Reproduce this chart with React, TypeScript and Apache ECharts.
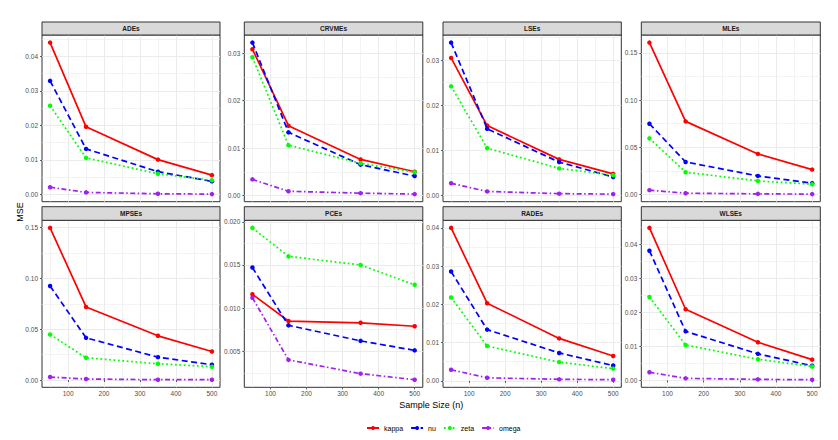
import React, { useEffect, useRef } from "react";
import * as echarts from "echarts";

// Facet panels (left-to-right, top-to-bottom)
const panels = ["ADEs", "CRVMEs", "LSEs", "MLEs", "MPSEs", "PCEs", "RADEs", "WLSEs"];
const sampleSizes = [50, 150, 350, 500];
const xBreaks = [100, 200, 300, 400, 500];
const seriesNames = ["kappa", "nu", "zeta", "omega"];

// MSE values: one row per panel (order of `panels`), one column per sample size
const kappa = [
  [0.0440, 0.0196, 0.0101, 0.0056],
  [0.0308, 0.0147, 0.0076, 0.0050],
  [0.0305, 0.0155, 0.0080, 0.0048],
  [0.1610, 0.0775, 0.0430, 0.0264],
  [0.1497, 0.0719, 0.0435, 0.0281],
  [0.0116, 0.0085, 0.0083, 0.0079],
  [0.0400, 0.0203, 0.0111, 0.0065],
  [0.0448, 0.0209, 0.0112, 0.0061],
];
const nu = [
  [0.0329, 0.0132, 0.0066, 0.0038],
  [0.0322, 0.0133, 0.0065, 0.0041],
  [0.0339, 0.0148, 0.0074, 0.0041],
  [0.0750, 0.0345, 0.0197, 0.0120],
  [0.0925, 0.0415, 0.0225, 0.0150],
  [0.0147, 0.0080, 0.0062, 0.0051],
  [0.0286, 0.0134, 0.0073, 0.0040],
  [0.0381, 0.0144, 0.0078, 0.0043],
];
const zeta = [
  [0.0257, 0.0106, 0.0060, 0.0041],
  [0.0291, 0.0106, 0.0068, 0.0049],
  [0.0242, 0.0105, 0.0060, 0.0045],
  [0.0595, 0.0236, 0.0144, 0.0109],
  [0.0448, 0.0219, 0.0160, 0.0131],
  [0.0193, 0.0160, 0.0150, 0.0127],
  [0.0218, 0.0091, 0.0049, 0.0032],
  [0.0245, 0.0104, 0.0062, 0.0041],
];
const omega = [
  [0.0021, 0.0006, 0.0002, 0.0001],
  [0.0034, 0.0009, 0.0005, 0.0003],
  [0.0027, 0.0009, 0.0004, 0.0003],
  [0.0046, 0.0014, 0.0007, 0.0004],
  [0.0029, 0.0010, 0.0003, 0.0003],
  [0.0112, 0.0040, 0.0024, 0.0017],
  [0.0029, 0.0008, 0.0004, 0.0003],
  [0.0024, 0.0006, 0.0003, 0.0002],
];

// y-axis tick labels per panel
const yBreaks = [
  [0, 0.01, 0.02, 0.03, 0.04],
  [0, 0.01, 0.02, 0.03],
  [0, 0.01, 0.02, 0.03],
  [0, 0.05, 0.1, 0.15],
  [0, 0.05, 0.1, 0.15],
  [0.005, 0.01, 0.015, 0.02],
  [0, 0.01, 0.02, 0.03, 0.04],
  [0, 0.01, 0.02, 0.03, 0.04],
];
const yDecimals = [2, 2, 2, 2, 2, 3, 2, 2];

const seriesData = [kappa, nu, zeta, omega];
const seriesColors = ["#FF0000", "#0000FF", "#00FF00", "#A020F0"];
const seriesDash: any[] = ["solid", [6, 3.5], [1.8, 2.6], [5, 2.5, 1.5, 2.5]];

// layout
const COLS = [
  [42, 220],
  [244.3, 422.8],
  [443, 621.3],
  [641.3, 820.3],
];
const ROWS = [
  { stripTop: 22, top: 35, bottom: 201.7 },
  { stripTop: 206.7, top: 220.3, bottom: 387.3 },
];
const FONT = "Liberation Sans, Arial, sans-serif";

function buildOption() {
  const grids: any[] = [];
  const xAxes: any[] = [];
  const yAxes: any[] = [];
  const series: any[] = [];
  const graphics: any[] = [];

  const xLo = Math.min(...sampleSizes);
  const xHi = Math.max(...sampleSizes);
  const xPad = (xHi - xLo) * 0.05;

  panels.forEach((name, p) => {
    const col = COLS[p % 4];
    const row = ROWS[Math.floor(p / 4)];
    const isBottom = p >= 4;
    grids.push({
      left: col[0],
      top: row.top,
      width: col[1] - col[0],
      height: row.bottom - row.top,
      show: true,
      backgroundColor: "#FFFFFF",
      borderColor: "#333333",
      borderWidth: 1,
      containLabel: false,
      outerBoundsMode: "none",
    });

    const all = seriesData.flatMap((s) => s[p]);
    const yLo = Math.min(...all);
    const yHi = Math.max(...all);
    const yPad = (yHi - yLo) * 0.05;
    const yInt = yBreaks[p][1] - yBreaks[p][0];
    const yMin = yLo - yPad;
    const yMax = yHi + yPad;

    xAxes.push({
      type: "value",
      gridIndex: p,
      min: xLo - xPad,
      max: xHi + xPad,
      minInterval: 100,
      maxInterval: 100,
      splitNumber: 5,
      axisLine: { show: false },
      axisTick: {
        show: isBottom,
        length: 2,
        lineStyle: { color: "#333333", width: 0.8 },
        customValues: xBreaks,
      },
      axisLabel: {
        show: isBottom,
        customValues: xBreaks,
        fontSize: 6.5,
        fontFamily: FONT,
        color: "#4D4D4D",
        margin: 3,
      },
      splitLine: { show: true, lineStyle: { color: "#EBEBEB", width: 1 } },
      minorTick: { show: false, splitNumber: 2 },
      minorSplitLine: { show: true, lineStyle: { color: "#EBEBEB", width: 0.6 } },
    });

    yAxes.push({
      type: "value",
      gridIndex: p,
      min: yMin,
      max: yMax,
      minInterval: yInt,
      maxInterval: yInt,
      splitNumber: Math.max(1, Math.round((yMax - yMin) / yInt)),
      axisLine: { show: false },
      axisTick: {
        show: true,
        length: 2,
        lineStyle: { color: "#333333", width: 0.8 },
        customValues: yBreaks[p],
      },
      axisLabel: {
        customValues: yBreaks[p],
        fontSize: 6.5,
        fontFamily: FONT,
        color: "#4D4D4D",
        margin: 4,
        formatter: (v: number) => v.toFixed(yDecimals[p]),
      },
      splitLine: { show: true, lineStyle: { color: "#EBEBEB", width: 1 } },
      minorTick: { show: false, splitNumber: 2 },
      minorSplitLine: { show: true, lineStyle: { color: "#EBEBEB", width: 0.6 } },
    });

    seriesNames.forEach((sn, s) => {
      series.push({
        type: "line",
        name: sn,
        xAxisIndex: p,
        yAxisIndex: p,
        data: sampleSizes.map((x, i) => [x, seriesData[s][p][i]]),
        symbol: "circle",
        symbolSize: 4.5,
        showSymbol: true,
        lineStyle: { color: seriesColors[s], width: 1.7, type: seriesDash[s] },
        itemStyle: { color: seriesColors[s] },
        emphasis: { disabled: true },
        z: 3 + s,
      });
    });

    // strip
    graphics.push({
      type: "rect",
      shape: { x: col[0], y: row.stripTop, width: col[1] - col[0], height: row.top - row.stripTop },
      style: { fill: "#D9D9D9", stroke: "#333333", lineWidth: 1 },
      z: 10,
    });
    graphics.push({
      type: "text",
      x: (col[0] + col[1]) / 2,
      y: (row.stripTop + row.top) / 2,
      style: {
        text: name,
        fill: "#1A1A1A",
        font: `bold 6.5px ${FONT}`,
        align: "center",
        verticalAlign: "middle",
      },
      z: 11,
    });
  });

  graphics.push({
    type: "text",
    x: (COLS[0][0] + COLS[3][1]) / 2,
    y: 404.5,
    style: {
      text: "Sample Size (n)",
      fill: "#000000",
      font: `9px ${FONT}`,
      align: "center",
      verticalAlign: "middle",
    },
  });
  graphics.push({
    type: "text",
    x: 19.5,
    y: 212,
    rotation: Math.PI / 2,
    style: {
      text: "MSE",
      fill: "#000000",
      font: `9px ${FONT}`,
      align: "center",
      verticalAlign: "middle",
    },
  });

  return {
    animation: false,
    backgroundColor: "#FFFFFF",
    grid: grids,
    xAxis: xAxes,
    yAxis: yAxes,
    series,
    legend: {
      data: seriesNames,
      left: 366,
      top: 424.5,
      padding: 0,
      itemWidth: 12,
      itemHeight: 5,
      itemGap: 7,
      textStyle: { fontSize: 7, fontFamily: FONT, color: "#000000" },
      selectedMode: false,
    },
    graphic: graphics,
  };
}

export default function App() {
  const ref = useRef<HTMLDivElement>(null);
  useEffect(() => {
    if (!ref.current) return;
    const chart = echarts.init(ref.current, null, { renderer: "svg" });
    chart.setOption(buildOption() as any);
    return () => chart.dispose();
  }, []);
  return (
    <div
      ref={ref}
      style={{ position: "fixed", left: 0, top: 0, width: 838, height: 440, background: "#fff" }}
    />
  );
}
